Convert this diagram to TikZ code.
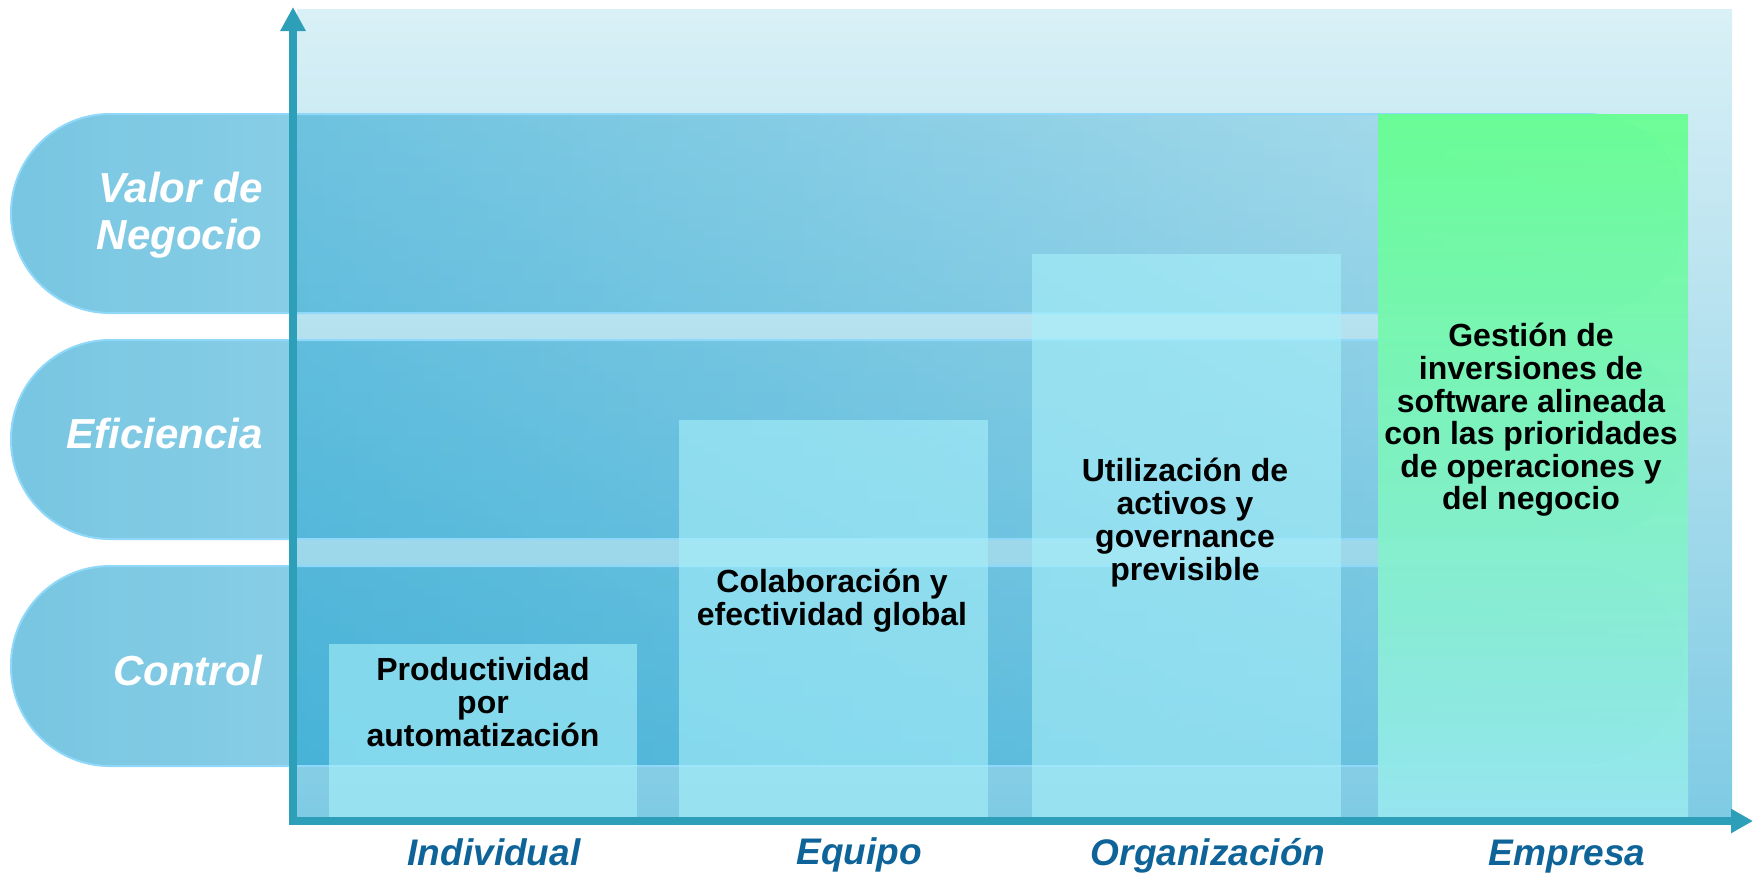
\documentclass[tikz,border=0pt]{standalone}
\usepackage{fontspec}
\setmainfont{Liberation Sans}
\usetikzlibrary{arrows.meta,fadings}
\definecolor{bgtop}{HTML}{D9F0F6}
\definecolor{bgbot}{HTML}{7FCBE4}
\definecolor{bandblue}{HTML}{0395C9}
\definecolor{bandedge}{HTML}{90D8FA}
\definecolor{boxcyan}{HTML}{A8F0FA}
\definecolor{greentop}{HTML}{66FF90}
\definecolor{greenmid}{HTML}{88F4CC}
\definecolor{greenbot}{HTML}{98E8F0}
\definecolor{axisteal}{HTML}{2E9FB8}
\definecolor{collabelc}{HTML}{0E6499}
\tikzfading[name=bandfade, left color=transparent!46, right color=transparent!86]
\begin{document}
\begin{tikzpicture}[x=0.5pt,y=-0.5pt,
  bandfill/.style={fill=bandblue, path fading=bandfade, rounded corners=49.5pt},
  bandline/.style={draw=bandedge, line width=1pt, rounded corners=49.5pt},
  colbox/.style={fill=boxcyan, fill opacity=0.6},
  axisline/.style={draw=axisteal, line width=4pt},
  rowlabel/.style={font=\fontsize{21}{23.5}\selectfont\bfseries\itshape, text=white, inner sep=0pt, align=right},
  boxtext/.style={font=\fontsize{16}{16.5}\selectfont\bfseries, text=black, inner sep=0pt, align=center},
  collabel/.style={font=\fontsize{18.5}{20}\selectfont\bfseries\itshape, text=collabelc, inner sep=0pt, anchor=base}
]
\useasboundingbox (0,0) rectangle (1754,875);
% background panel
\shade[top color=bgtop, bottom color=bgbot] (297,9) rectangle (1732,817);
% bands
\fill[bandfill] (11,114) rectangle (1685,313);
\fill[bandfill] (11,340) rectangle (1685,539);
\fill[bandfill] (11,566) rectangle (1685,766);
\draw[bandline] (11,114) rectangle (1685,313);
\draw[bandline] (11,340) rectangle (1685,539);
\draw[bandline] (11,566) rectangle (1685,766);
% columns
\fill[colbox] (329,644) rectangle (637,817);
\fill[colbox] (679,420) rectangle (988,817);
\fill[colbox] (1032,254) rectangle (1341,817);
\shade[top color=greentop, middle color=greenmid, bottom color=greenbot, opacity=0.93] (1378,114) rectangle (1688,817);
% axes
\coordinate (yb) at (293,825);
\coordinate (yt) at (293,7);
\coordinate (xl) at (289,821);
\coordinate (xr) at (1753,821);
\draw[axisline, -{Triangle[length=12pt,width=12pt]}] (yb) -- (yt);
\draw[axisline, -{Triangle[length=11pt,width=11.5pt]}] (xl) -- (xr);
% row labels
\node[rowlabel, anchor=east] (valor) at (263,215.5) {Valor de\\Negocio};
\node[rowlabel, anchor=base east] (efic) at (263,448) {Eficiencia};
\node[rowlabel, anchor=base east] (control) at (263,685) {Control};
% column texts
\node[boxtext] (prod) at (483,701.8) {Productividad\\por\\automatización};
\node[boxtext] (colab) at (832,600.6) {Colaboración y\\efectividad global};
\node[boxtext] (util) at (1185,523) {Utilización de\\activos y\\governance\\previsible};
\node[boxtext, font=\fontsize{16}{16.3}\selectfont\bfseries] (gest) at (1531,420) {Gestión de\\inversiones de\\software alineada\\con las prioridades\\de operaciones y\\del negocio};
% column labels
\node[collabel] (indiv) at (494,865) {Individual};
\node[collabel] (equipo) at (859,864) {Equipo};
\node[collabel] (org) at (1208,865) {Organización};
\node[collabel] (emp) at (1567,865) {Empresa};
\end{tikzpicture}
\end{document}
